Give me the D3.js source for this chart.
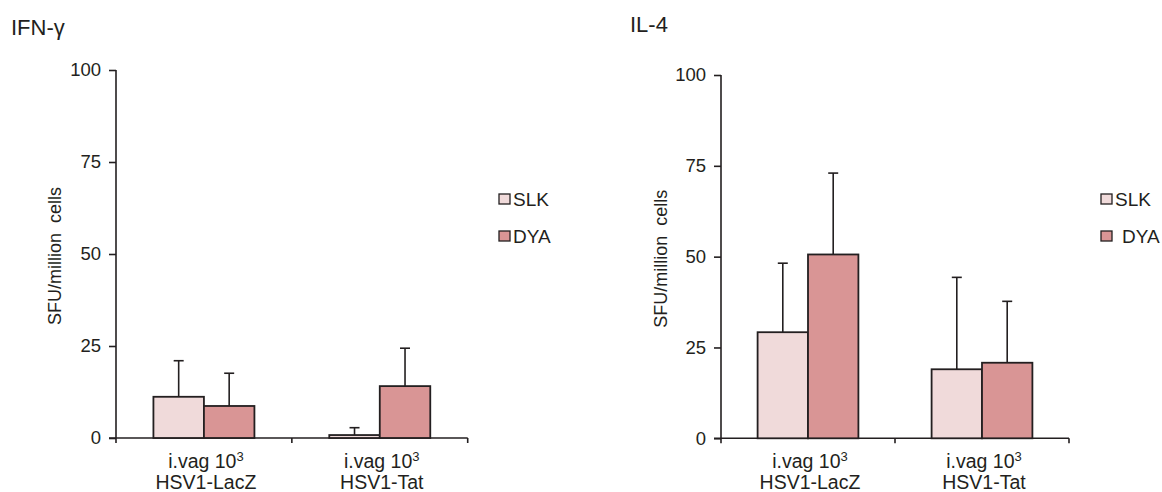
<!DOCTYPE html>
<html>
<head>
<meta charset="utf-8">
<script src="https://cdn.jsdelivr.net/npm/d3@7"></script>
<style>
  html, body { margin: 0; padding: 0; background: #fff; }
  svg { display: block; font-family: "Liberation Sans", Arial, sans-serif; }
</style>
</head>
<body>
<svg id="chart" width="1162" height="492"></svg>
<script>
// ---- data ----
const categories = ["LacZ", "Tat"];
const categoryLine1 = ["i.vag 10", "i.vag 10"];
const categoryLine2 = ["HSV1-LacZ", "HSV1-Tat"];
const series = ["SLK", "DYA"];
const yTicks = [0, 25, 50, 75, 100];

const ifnMean = { SLK: [11.2, 0.8], DYA: [8.7, 14.1] };
const ifnErr  = { SLK: [21.0, 2.8], DYA: [17.6, 24.4] };   // top of error bar
const il4Mean = { SLK: [29.2, 19.0], DYA: [50.6, 20.8] };
const il4Err  = { SLK: [48.2, 44.3], DYA: [73.0, 37.7] };

const colors = { SLK: "#f0dada", DYA: "#d99595" };
const ink = "#231f20";

const svg = d3.select("#chart");

function panel(opts) {
  const g = svg.append("g");
  const y = d3.scaleLinear().domain([0, 100]).range([opts.y0, opts.y1]);
  const x = d3.scaleBand().domain(categories).range([opts.x0, opts.x1]).padding(0);
  const bw = x.bandwidth();
  const barW = opts.barW;
  const xs = d3.scaleBand().domain(series).range([bw / 2 - barW, bw / 2 + barW]).padding(0);

  // title
  g.append("text").attr("x", opts.titleX).attr("y", opts.titleY)
    .attr("font-size", 22).attr("fill", ink).text(opts.title);

  // y axis
  const yAxis = d3.axisLeft(y).tickValues(yTicks).tickSize(7).tickPadding(8).tickSizeOuter(0);
  const ya = g.append("g").attr("transform", `translate(${opts.x0},0)`).call(yAxis);
  ya.select(".domain").attr("stroke", ink).attr("stroke-width", 1.6)
    .attr("d", `M0,${opts.y1}H0V${opts.y0 + 5}`);
  ya.selectAll(".tick line").attr("stroke", ink).attr("stroke-width", 1.6);
  ya.selectAll(".tick text").attr("font-size", 18.5).attr("fill", ink)
    .attr("font-family", "Liberation Sans, Arial, sans-serif");

  // y label
  g.append("text")
    .attr("transform", `translate(${opts.ylabX},${(opts.y0 + opts.y1) / 2 + 2}) rotate(-90)`)
    .attr("text-anchor", "middle").attr("font-size", 18).attr("fill", ink)
    .attr("dy", "0.35em")
    .style("white-space", "pre")
    .text("SFU/million  cells");

  // x axis line
  g.append("line").attr("x1", opts.x0 - 7).attr("x2", opts.x1)
    .attr("y1", y(0)).attr("y2", y(0)).attr("stroke", ink).attr("stroke-width", 1.6);
  // boundary ticks
  const bounds = categories.map(c => x(c)).concat([x(categories[categories.length - 1]) + bw]);
  g.selectAll(".bt").data(bounds.slice(1)).enter().append("line")
    .attr("x1", d => d).attr("x2", d => d)
    .attr("y1", y(0)).attr("y2", y(0) + 5)
    .attr("stroke", ink).attr("stroke-width", 1.6);

  // bars + error bars
  series.forEach(s => {
    const gs = g.append("g");
    categories.forEach((c, i) => {
      const bx = x(c) + xs(s);
      const cx = bx + xs.bandwidth() / 2;
      gs.append("line").attr("x1", cx).attr("x2", cx)
        .attr("y1", y(opts.mean[s][i])).attr("y2", y(opts.err[s][i]))
        .attr("stroke", ink).attr("stroke-width", 1.6);
      gs.append("line").attr("x1", cx - 5).attr("x2", cx + 5)
        .attr("y1", y(opts.err[s][i])).attr("y2", y(opts.err[s][i]))
        .attr("stroke", ink).attr("stroke-width", 1.6);
      gs.append("rect").attr("x", bx).attr("width", xs.bandwidth())
        .attr("y", y(opts.mean[s][i])).attr("height", y(0) - y(opts.mean[s][i]))
        .attr("fill", colors[s]).attr("stroke", ink).attr("stroke-width", 1.8);
    });
  });

  // category labels
  categories.forEach((c, i) => {
    const cx = x(c) + bw / 2 + 2;
    const t1 = g.append("text").attr("x", cx).attr("y", y(0) + 30)
      .attr("text-anchor", "middle").attr("font-size", 19.5).attr("fill", ink);
    t1.append("tspan").text(categoryLine1[i]);
    t1.append("tspan").attr("font-size", 13).attr("dy", -7).text("3");
    g.append("text").attr("x", cx).attr("y", y(0) + 51)
      .attr("text-anchor", "middle").attr("font-size", 19.5).attr("fill", ink)
      .text(categoryLine2[i]);
  });

  // legend
  series.forEach((s, i) => {
    const ly = opts.legY + i * 37;
    g.append("rect").attr("x", opts.legX).attr("y", ly).attr("width", 11).attr("height", 10)
      .attr("fill", colors[s]).attr("stroke", ink).attr("stroke-width", 1.3);
    g.append("text").attr("x", opts.legX + 14 + (i === 1 ? opts.legExtra : 0)).attr("y", ly + 12)
      .attr("font-size", 19).attr("fill", ink).text(s);
  });
}

panel({
  title: "IFN-γ", titleX: 11, titleY: 35,
  x0: 116, x1: 467.7, y0: 438, y1: 70, barW: 50.5,
  ylabX: 55, mean: ifnMean, err: ifnErr,
  legX: 499, legY: 194, legExtra: 0
});
panel({
  title: "IL-4", titleX: 630, titleY: 32,
  x0: 721, x1: 1069, y0: 438.3, y1: 75, barW: 50.4,
  ylabX: 661, mean: il4Mean, err: il4Err,
  legX: 1101, legY: 194, legExtra: 7
});
</script>
</body>
</html>
